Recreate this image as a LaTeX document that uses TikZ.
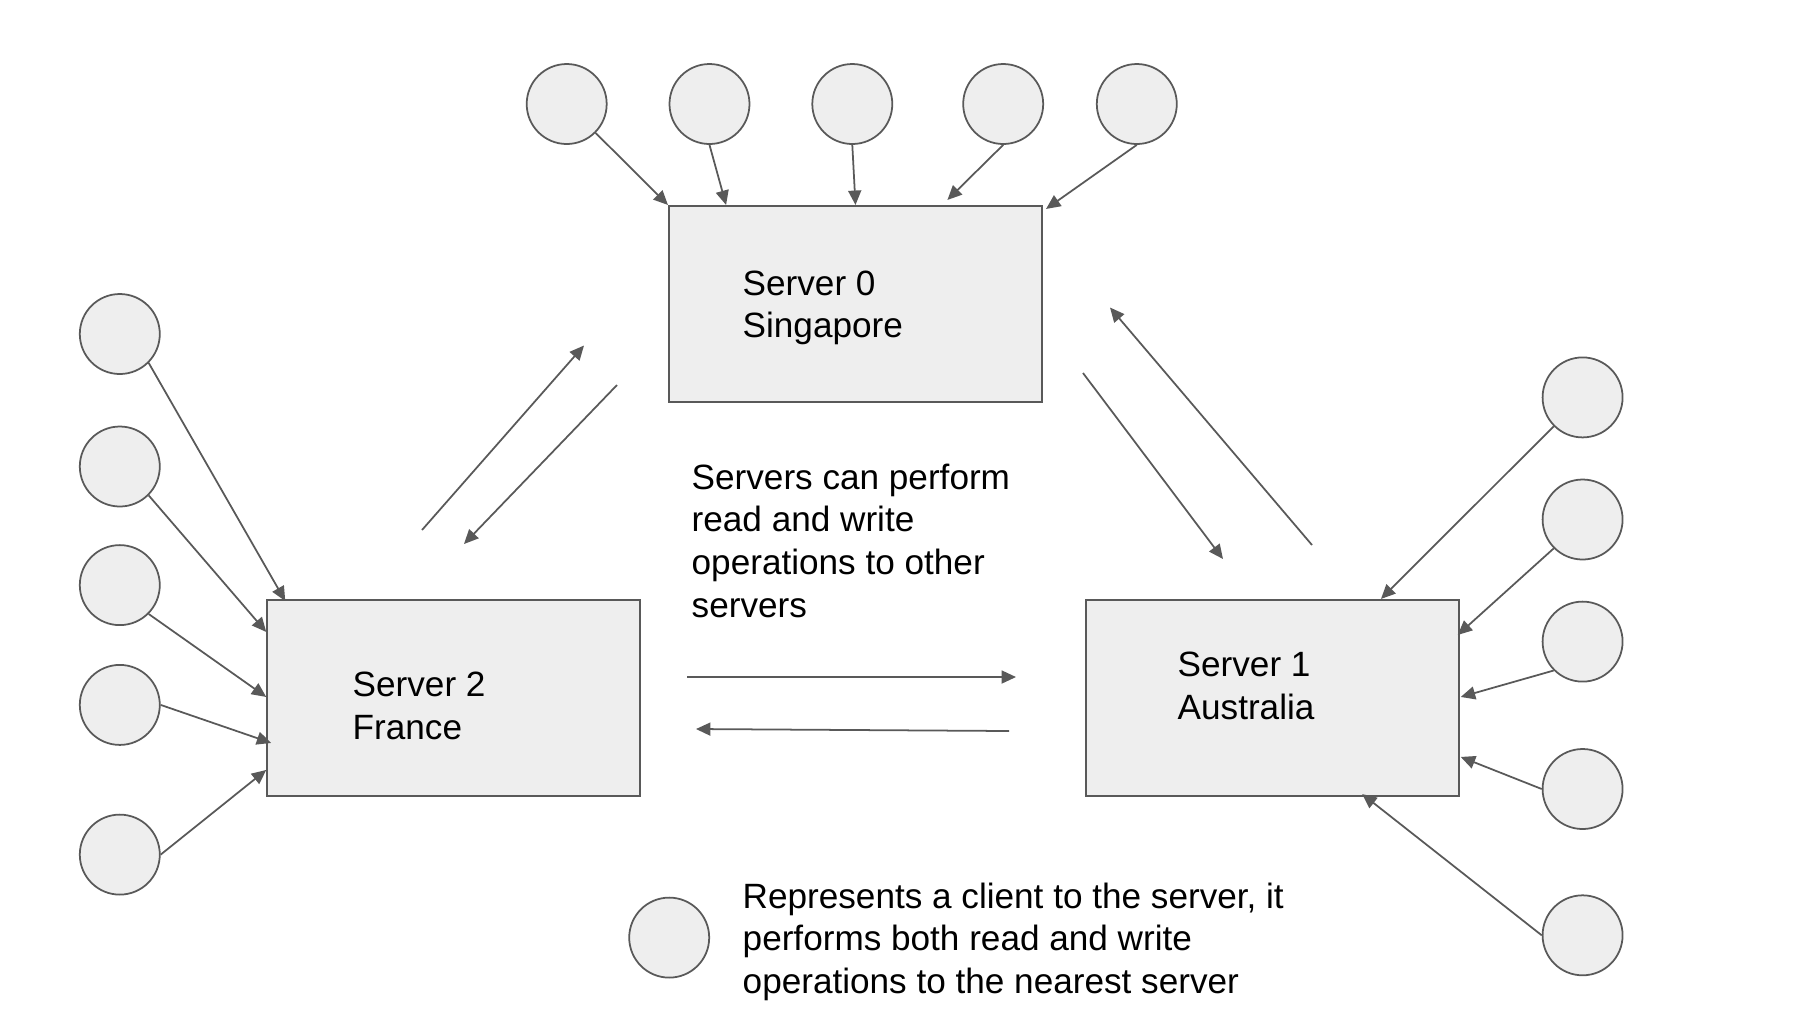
\documentclass[tikz,border=0pt]{standalone}
\usepackage{fontspec}
\setmainfont{Liberation Sans}
\usepackage{xcolor}
\usepackage{tikz}
\usetikzlibrary{arrows.meta,calc}

\definecolor{clientfill}{HTML}{EEEEEE}
\definecolor{linegray}{HTML}{595959}

\begin{document}
\begin{tikzpicture}[
    client/.style={circle, draw=linegray, fill=clientfill, line width=0.5pt, minimum size=0.8cm, inner sep=0pt},
    server/.style={rectangle, draw=linegray, fill=clientfill, line width=0.6pt, minimum width=3.73cm, minimum height=1.96cm},
    lbl/.style={inner sep=0pt, align=left, font=\fontsize{10pt}{12.1pt}\selectfont},
    arr/.style={-{Triangle[length=4.1pt,width=3.7pt]}, draw=linegray, fill=linegray, line width=0.5pt}
]
  \useasboundingbox (0,0) rectangle (18.06,-10.12);

  % servers
  \node[server] (s0) at (8.555,-3.04) {};
  \node[server] (s2) at (4.538,-6.98) {};
  \node[server] (s1) at (12.722,-6.98) {};

  % labels (anchored at the baseline of the last line)
  \node[lbl, anchor=base west] (t0) at (7.42,-3.376) {Server 0\\Singapore};
  \node[lbl, anchor=base west] (t2) at (3.52,-7.39) {Server 2\\France};
  \node[lbl, anchor=base west] (t1) at (11.77,-7.19) {Server 1\\Australia};

  % clients of server 0
  \node[client] (c1) at (5.667,-1.04) {};
  \node[client] (c2) at (7.095,-1.04) {};
  \node[client] (c3) at (8.523,-1.04) {};
  \node[client] (c4) at (10.032,-1.04) {};
  \node[client] (c5) at (11.368,-1.04) {};

  % clients of server 2
  \node[client] (l1) at (1.198,-3.34) {};
  \node[client] (l2) at (1.198,-4.665) {};
  \node[client] (l3) at (1.198,-5.851) {};
  \node[client] (l4) at (1.198,-7.049) {};
  \node[client] (l5) at (1.198,-8.546) {};

  % clients of server 1
  \node[client] (r1) at (15.826,-3.974) {};
  \node[client] (r2) at (15.826,-5.195) {};
  \node[client] (r3) at (15.826,-6.416) {};
  \node[client] (r4) at (15.826,-7.89) {};
  \node[client] (r5) at (15.826,-9.353) {};

  % legend
  \node[client] (leg) at (6.692,-9.376) {};
  \node[lbl, anchor=base west] (tleg) at (7.42,-9.934) {Represents a client to the server, it\\performs both read and write\\operations to the nearest server};

  \node[lbl, anchor=base west] (tmid) at (6.91,-6.17) {Servers can perform\\read and write\\operations to other\\servers};

  \draw[arr] (c1.south east) -- (s0.north west);
  \draw[arr] (c2.south) -- ($(s0.north west)!0.155!(s0.north east)$);
  \draw[arr] (c3.south) -- ($(s0.north west)!0.5!(s0.north east)$);
  \draw[arr] (c4.south) -- ($(s0.north west)!0.745!(s0.north east)+(0,0.05)$);
  \draw[arr] (c5.south) -- ($(s0.north east)+(0.03,-0.04)$);

  \draw[arr] (l1.south east) -- ($(s2.north west)+(0.19,-0.02)$);
  \draw[arr] (l2.south east) -- ($(s2.north west)+(0,-0.33)$);
  \draw[arr] (l3.south east) -- ($(s2.north west)+(0,-0.98)$);
  \draw[arr] (l4.east) -- ($(s2.north west)+(0.05,-1.44)$);
  \draw[arr] (l5.east) -- ($(s2.north west)+(0,-1.71)$);

  \draw[arr] (r1.south west) -- ($(s1.north west)!0.79!(s1.north east)$);
  \draw[arr] (r2.south west) -- ($(s1.north east)+(-0.02,-0.36)$);
  \draw[arr] (r3.south west) -- ($(s1.north east)+(0.01,-0.98)$);
  \draw[arr] (r4.west) -- ($(s1.north east)+(0.01,-1.58)$);
  \draw[arr] (r5.west) -- ($(s1.south west)!0.74!(s1.south east)+(0,0.03)$);

  % server to server
  \coordinate (a20s) at (4.22,-5.30);
  \coordinate (a20e) at (5.84,-3.455);
  \coordinate (a02s) at (6.17,-3.85);
  \coordinate (a02e) at (4.64,-5.44);
  \coordinate (a01s) at (10.83,-3.73);
  \coordinate (a01e) at (12.23,-5.59);
  \coordinate (a10s) at (13.12,-5.45);
  \coordinate (a10e) at (11.10,-3.075);
  \coordinate (a21s) at (6.87,-6.77);
  \coordinate (a21e) at (10.16,-6.77);
  \coordinate (a12s) at (10.09,-7.31);
  \coordinate (a12e) at (6.96,-7.29);

  \draw[arr] (a20s) -- (a20e);
  \draw[arr] (a02s) -- (a02e);
  \draw[arr] (a01s) -- (a01e);
  \draw[arr] (a10s) -- (a10e);
  \draw[arr] (a21s) -- (a21e);
  \draw[arr] (a12s) -- (a12e);
\end{tikzpicture}
\end{document}
